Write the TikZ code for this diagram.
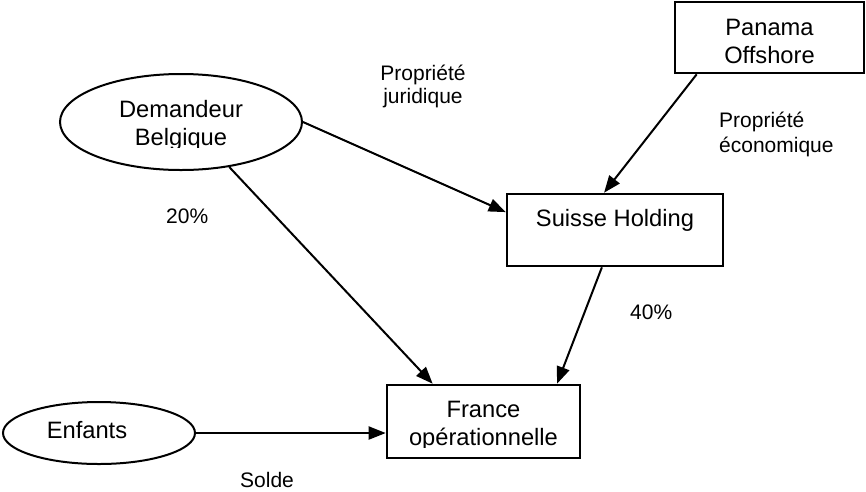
\documentclass[tikz,border=0pt]{standalone}
\usepackage{fontspec}
\setmainfont{Liberation Sans}
\usetikzlibrary{shapes.geometric,arrows.meta,calc}
\begin{document}
\begin{tikzpicture}[x=1pt,y=-1pt,
  oval/.style={draw, ellipse, line width=2pt, inner sep=0pt},
  box/.style={draw, rectangle, line width=2.6pt, inner sep=0pt},
  nodetext/.style={font=\fontsize{23.7}{28}\selectfont, align=center, inner sep=0pt, anchor=base},
  lbl/.style={font=\fontsize{21}{23}\selectfont, inner sep=0pt, anchor=base west},
  link/.style={line width=2pt, -{Triangle[length=17pt,width=13pt]}}]
\useasboundingbox (0,0) rectangle (866,491);

% shapes
\node[oval, minimum width=242pt, minimum height=96pt] (dem) at (181,122) {};
\node[box, minimum width=189pt, minimum height=71pt] (pan) at (769.5,37.5) {};
\node[box, minimum width=216pt, minimum height=72pt] (sui) at (615,230) {};
\node[box, minimum width=193pt, minimum height=73pt] (fra) at (483.5,421.5) {};
\node[oval, minimum width=192pt, minimum height=62pt] (enf) at (99,433) {};

% texts inside the shapes (the lower lines are cut off by their text frames);
% a multi-line node sits on the baseline of its last line
\begin{scope}
  \clip (0,0) rectangle (866,147);
  \node[nodetext] (demtxt) at (181,145) {Demandeur\\Belgique};
\end{scope}
\node[nodetext] (pantxt) at (769.5,63) {Panama\\Offshore};
\node[nodetext] (suitxt) at (615,226) {Suisse Holding};
\begin{scope}
  \clip (0,300) rectangle (866,447);
  \node[nodetext] (fratxt) at (483.5,445) {France\\opérationnelle};
\end{scope}
\node[nodetext] (enftxt) at (87,438) {Enfants};

% labels
\node[lbl, align=center, anchor=base] (jur) at (423,103) {Propriété\\juridique};
\node[lbl, align=left, font=\fontsize{21}{25}\selectfont] (eco) at (719,152) {Propriété\\économique};
\node[lbl] (p20) at (166,223) {20\%};
\node[lbl] (p40) at (630,319) {40\%};
\node[lbl] (solde) at (240,487) {Solde};

% ownership links
\draw[link] (dem.east) -- ($(sui.north west)!0.26!(sui.south west)$);
\draw[link] ($(pan.south west)!0.12!(pan.south east)$) -- ($(sui.north west)!0.45!(sui.north east)$);
\draw[link] (dem.-43) -- ($(fra.north west)!0.24!(fra.north east)$);
\draw[link] ($(sui.south west)!0.44!(sui.south east)$) -- ($(fra.north west)!0.876!(fra.north east)$);
\draw[link] (enf.east) -- (enf.east -| fra.west);
\end{tikzpicture}
\end{document}
